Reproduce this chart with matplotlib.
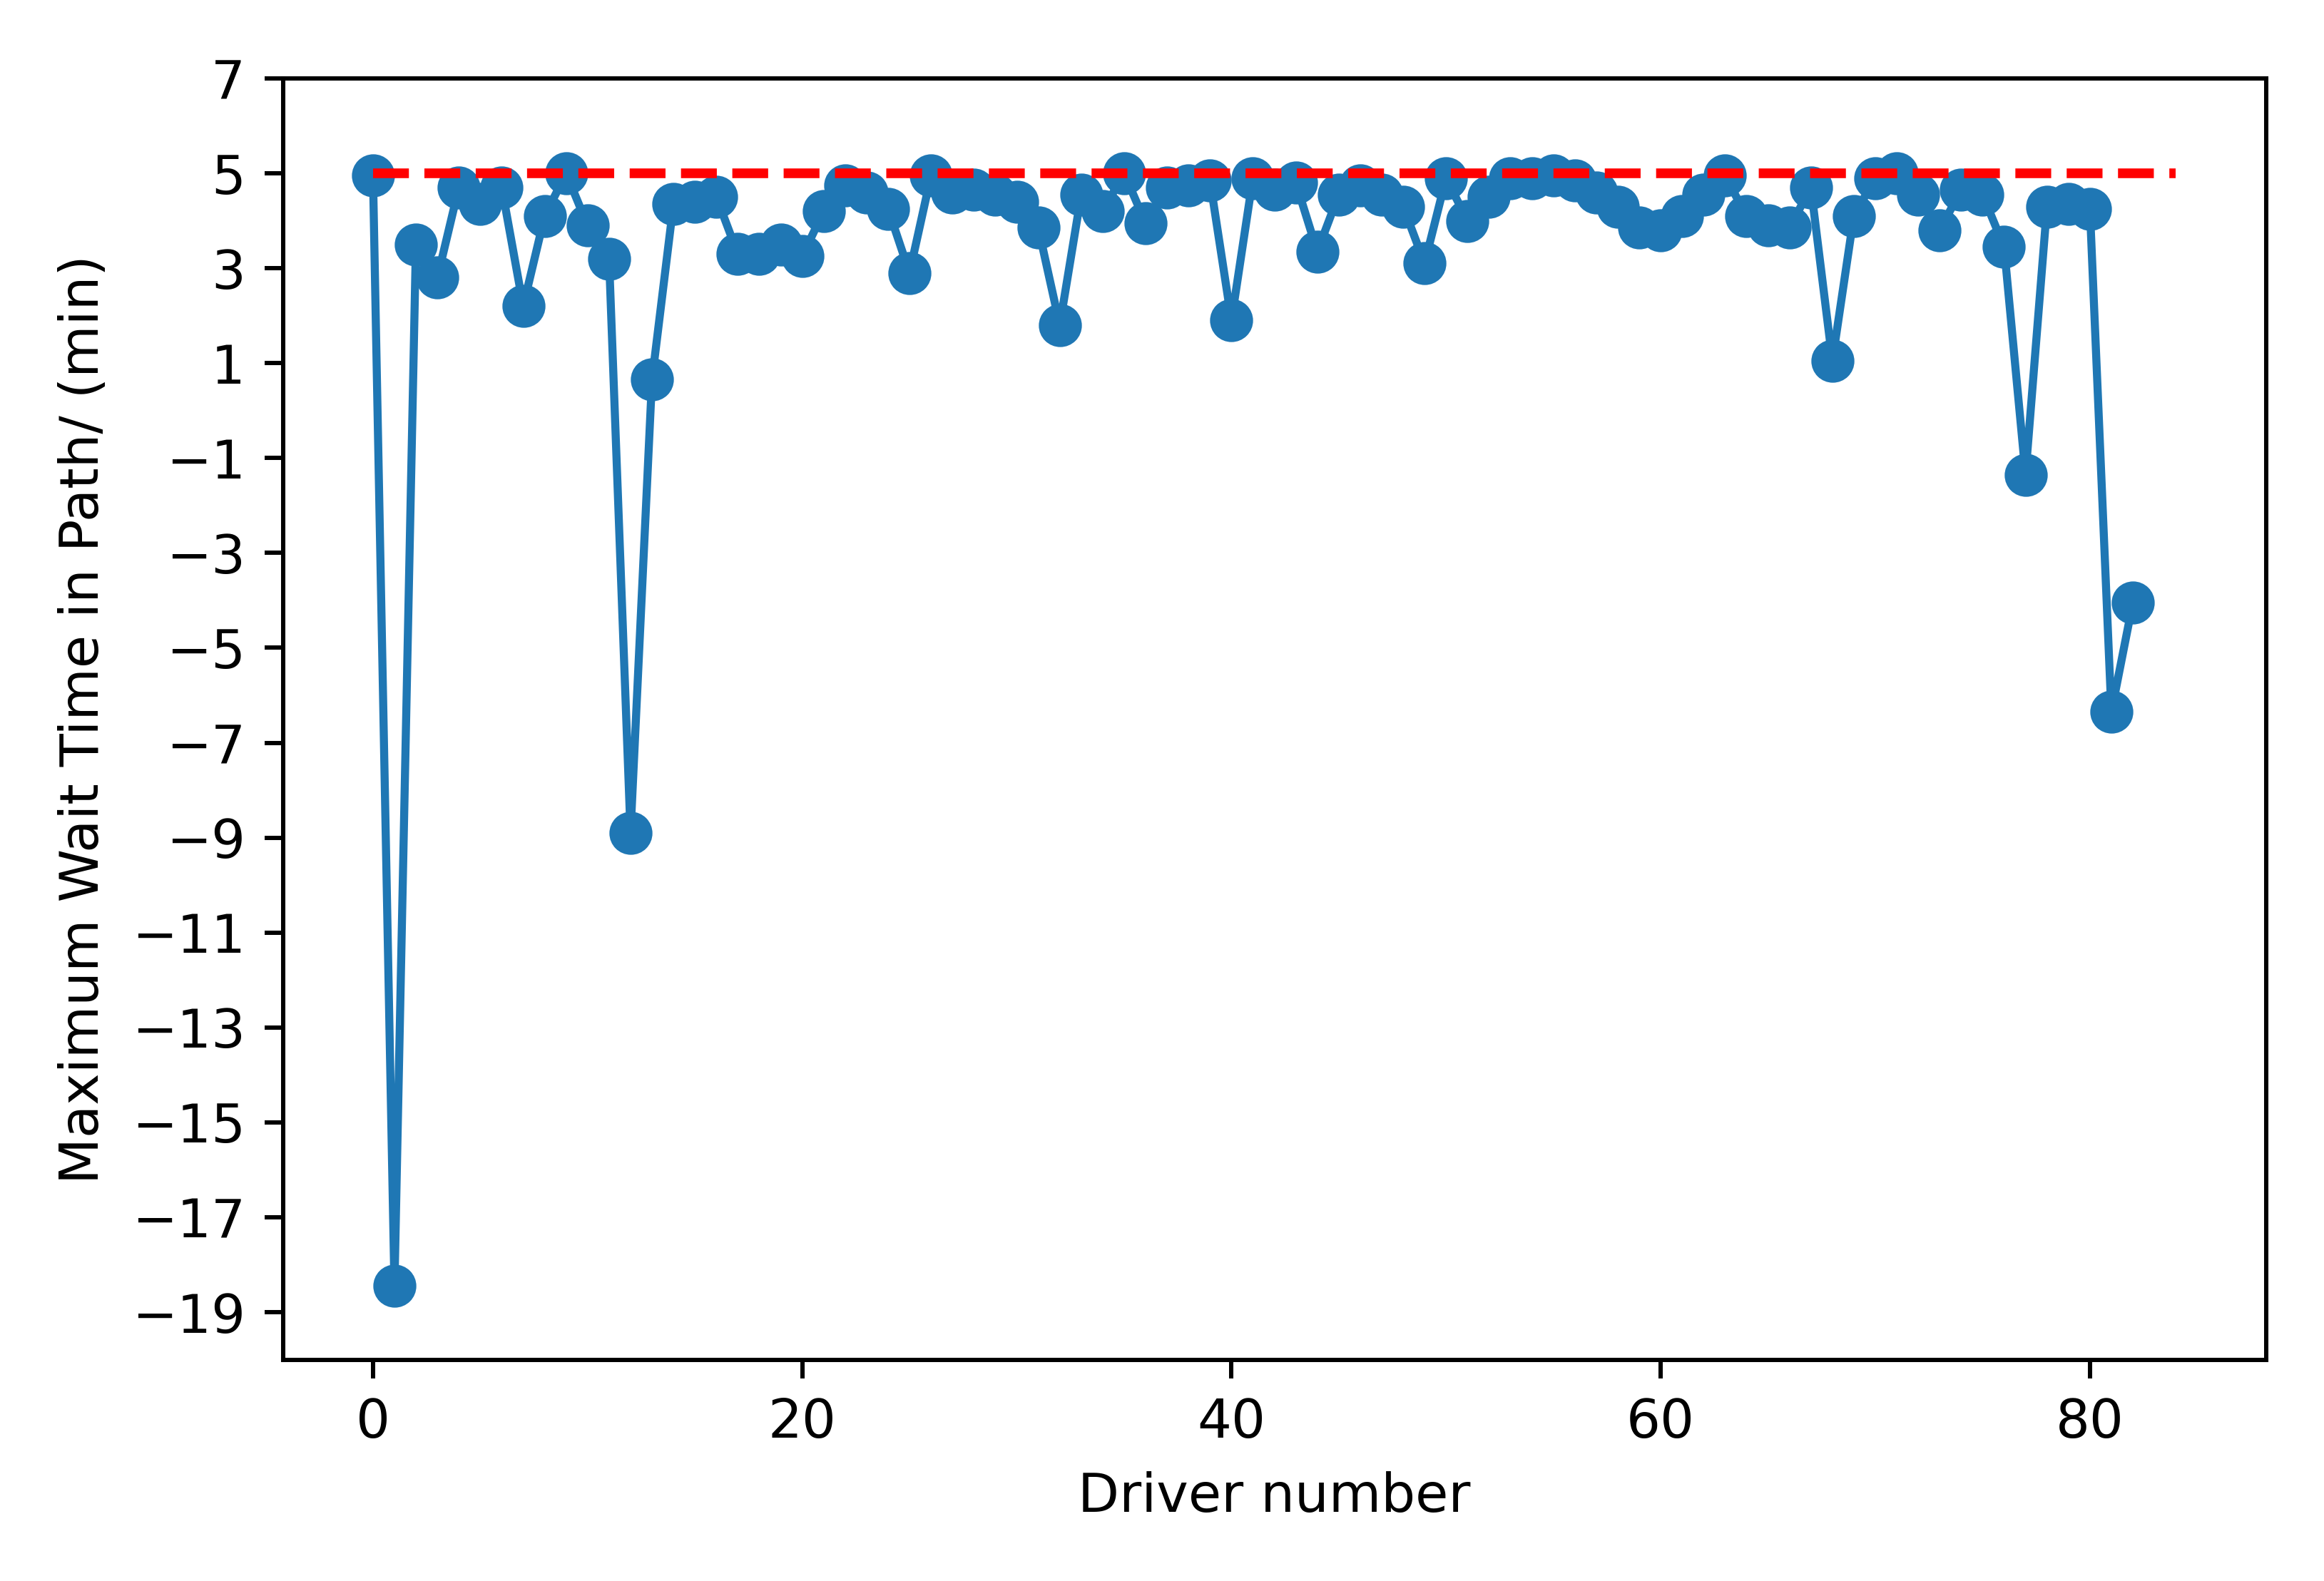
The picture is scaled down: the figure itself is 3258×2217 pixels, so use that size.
import matplotlib
matplotlib.use("Agg")
import matplotlib.pyplot as plt
import numpy as np

wait = [4.95, -18.45, 3.5, 2.8, 4.7, 4.35, 4.7, 2.2, 4.1, 5.0,
        3.9, 3.2, -8.9, 0.65, 4.35, 4.4, 4.5, 3.3, 3.3, 3.5,
        3.25, 4.2, 4.75, 4.6, 4.25, 2.9, 4.95, 4.6, 4.65, 4.55,
        4.4, 3.85, 1.8, 4.55, 4.2, 5.0, 3.95, 4.7, 4.75, 4.85,
        1.9, 4.9, 4.65, 4.8, 3.35, 4.55, 4.75, 4.55, 4.3, 3.1,
        4.9, 4.0, 4.5, 4.9, 4.9, 4.95, 4.85, 4.6, 4.3, 3.85,
        3.8, 4.1, 4.55, 4.95, 4.1, 3.9, 3.85, 4.7, 1.05, 4.1,
        4.9, 5.0, 4.55, 3.8, 4.65, 4.55, 3.45, -1.35, 4.3, 4.35,
        4.25, -6.35, -4.05]
limit_x = [0, 84]
limit_y = [5, 5]

fig, ax = plt.subplots(figsize=(6.0, 4.083), dpi=543)
ax.plot(range(len(wait)), wait, marker='o', color='#1f77b4', markersize=7, linewidth=1.5)
ax.plot(limit_x, limit_y, 'r--', linewidth=1.8)
ax.set_yticks(np.arange(7, -20, -2))
ax.set_ylim(-20, 7)
ax.set_xlabel("Driver number")
ax.set_ylabel("Maximum Wait Time in Path/ (min)")
fig.tight_layout()
fig.savefig("out.png")
